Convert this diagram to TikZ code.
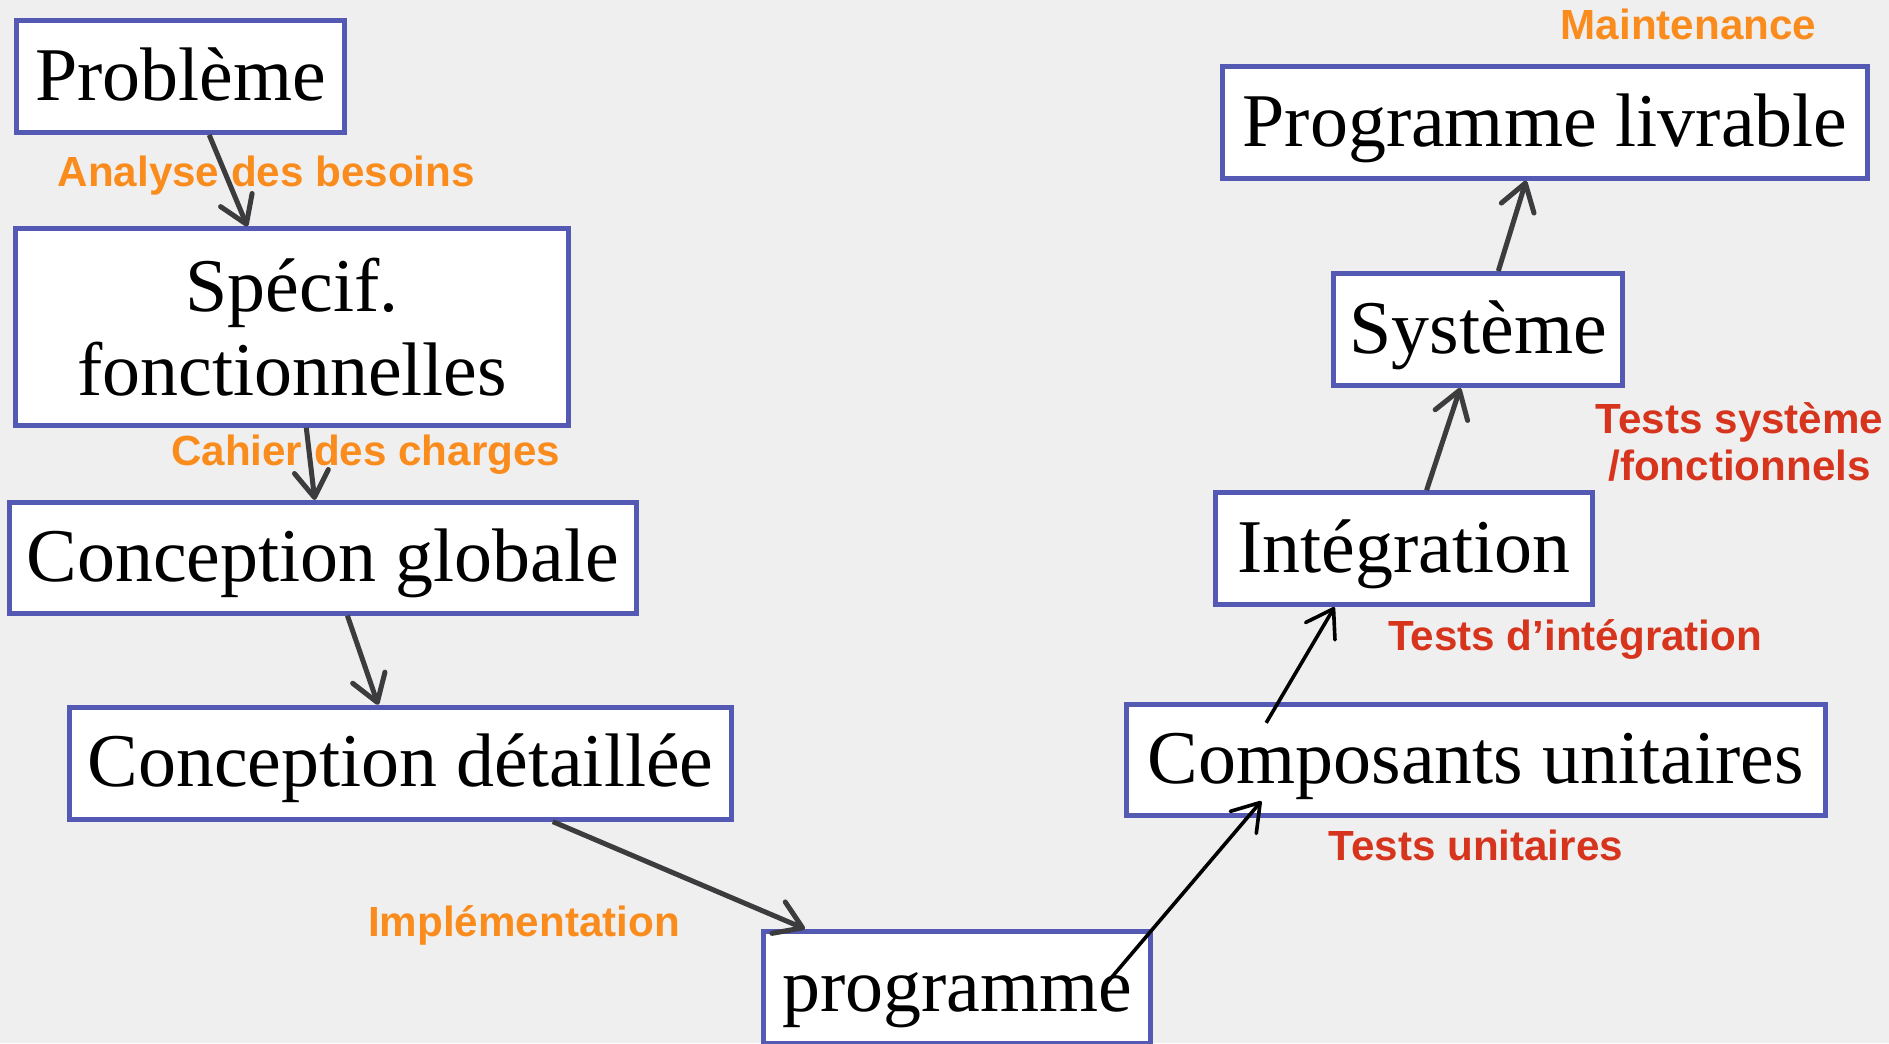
\documentclass[tikz,border=0pt]{standalone}
\usepackage{fontspec}
\setmainfont{Liberation Serif}
\newfontfamily\labelfont{Liberation Sans}
\usetikzlibrary{arrows.meta}
\definecolor{paper}{RGB}{239,239,239}
\definecolor{boxblue}{RGB}{84,90,180}
\definecolor{flowgray}{RGB}{60,60,62}
\definecolor{phaseorange}{RGB}{250,140,30}
\definecolor{testred}{RGB}{215,52,30}

\begin{document}
\begin{tikzpicture}[
            x=0.6pt, y=-0.6pt,
            stage/.style 2 args={
                draw=boxblue, line width=2.4pt, fill=white,
                minimum width=#1*0.6pt, minimum height=#2*0.6pt,
                inner sep=0pt, align=center,
                text height=35pt, text depth=11.3pt,
                font=\fontsize{37.8}{42}\selectfont
            },
            phaselabel/.style={
                text=phaseorange, inner sep=0pt, anchor=base, align=center,
                font=\labelfont\bfseries\fontsize{21}{23.4}\selectfont
            },
            testlabel/.style={phaselabel, text=testred},
            flow/.style={
                draw=flowgray, line width=2.5pt,
                -{Straight Barb[length=13pt, width=17pt, round]}
            },
            build/.style={flow, draw=black, line width=1.8pt}
        ]
        \fill[paper] (0, 0) rectangle (1568, 866);
        \useasboundingbox (0, 0) rectangle (1568, 866);

        % descending branch
        \node (prob) at (150, 63.5)[stage={272}{93}] {Problème};
        \node (spec) at (242.5, 271.5)[stage={459}{163}, text height={}, text depth={}] {Spécif.\\fonctionnelles};
        \node (cglob) at (268, 463)[stage={520}{92}] {Conception globale};
        \node (cdet) at (332.5, 633.5)[stage={549}{93}] {Conception détaillée};
        \node (prog) at (794.5, 819.5)[stage={321}{93}] {programme};

        % ascending branch
        \node (comp) at (1225, 631)[stage={580}{92}] {Composants unitaires};
        \node (integ) at (1165.5, 455.5)[stage={313}{93}] {Intégration};
        \node (sys) at (1227, 273.5)[stage={240}{93}] {Système};
        \node (livr) at (1282.5, 101.5)[stage={535}{93}] {Programme livrable};

        \node (besoins) at (221, 155)[phaselabel] {Analyse des besoins};
        \node (cahier) at (303.5, 386)[phaselabel] {Cahier des charges};
        \node (impl) at (435, 777)[phaselabel] {Implémentation};
        \node (maint) at (1401.5, 33)[phaselabel] {Maintenance};
        \node (tunit) at (1225, 714)[testlabel] {Tests unitaires};
        \node (tinteg) at (1307.5, 540)[testlabel] {Tests d’intégration};
        \node (tsys) at (1444, 367)[testlabel, anchor=center] {Tests système\\/fonctionnels};

        \coordinate (progin) at (917, 818);
        \coordinate (compin) at (1047, 665);
        \coordinate (compout) at (1051, 600);

        \draw[flow] (prob.-64.7) -- (spec.114.7);
        \draw[flow] (spec.-82) -- (cglob.98.7);
        \draw[flow] (cglob.-67.6) -- (cdet.111.7);
        \draw[flow] (cdet.-21.4) -- (prog.159.2);
        \draw[build] (progin) -- (compin);
        \draw[build] (compout) -- (integ.-140);
        \draw[flow] (integ.69.4) -- (sys.-107.9);
        \draw[flow] (sys.71) -- (livr.-108.4);
    \end{tikzpicture}
\end{document}
